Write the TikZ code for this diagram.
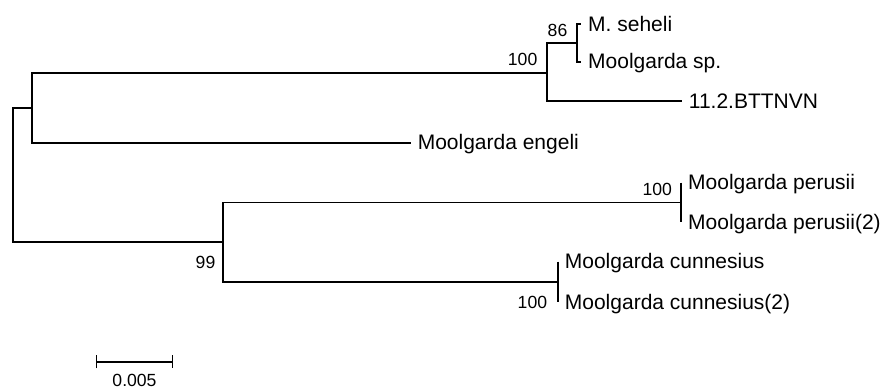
\documentclass[tikz,border=0pt]{standalone}
\usepackage{fontspec}
\setmainfont{Liberation Sans}
\usetikzlibrary{arrows.meta, positioning}

\begin{document}
\begin{tikzpicture}[
    x=0.5pt, y=-0.5pt,
    branch/.style={draw=black, line width=0.85pt},
    taxon/.style={inner sep=0pt, text height=8pt, text depth=1pt,
                  font=\fontsize{10.5}{12}\selectfont},
    support/.style={inner sep=0pt, font=\fontsize{8.8}{10}\selectfont},
    scalebar/.style={line width=0.85pt, {Bar[width=6.6pt]}-{Bar[width=6.6pt]}}
  ]
  \useasboundingbox (0,0) rectangle (885,388);

  \coordinate (root) at (12.7,175);
  \coordinate (nA) at (31.7,107.7);
  \coordinate (n100) at (546.7,72.7);
  \coordinate (n86) at (577.3,42.8);
  \coordinate (seheli) at (581,24);
  \coordinate (sp) at (581,61.7);
  \coordinate (bttnvn) at (681.7,101);
  \coordinate (engeli) at (411,142.7);
  \coordinate (nB) at (223.3,242.3);
  \coordinate (nPer) at (681,202.5);
  \coordinate (per1) at (681,182.7);
  \coordinate (per2) at (681,222.3);
  \coordinate (nCun) at (557.7,282.3);
  \coordinate (cun1) at (557.7,261.7);
  \coordinate (cun2) at (557.7,302.3);

  \draw[branch] (root) |- (nA);
  \draw[branch] (root) |- (nB);
  \draw[branch] (nA) |- (n100);
  \draw[branch] (nA) |- (engeli);
  \draw[branch] (n100) |- (n86);
  \draw[branch] (n100) |- (bttnvn);
  \draw[branch] (n86) |- (seheli);
  \draw[branch] (n86) |- (sp);
  \draw[branch] (nB) |- (nPer);
  \draw[branch] (nB) |- (nCun);
  \draw[branch] (per1) -- (per2);
  \draw[branch] (cun1) -- (cun2);

  \node[taxon, right=3.4pt of seheli] (l-seheli) {M. seheli};
  \node[taxon, right=3.4pt of sp] (l-sp) {Moolgarda sp.};
  \node[taxon, right=3.4pt of bttnvn] (l-bttnvn) {11.2.BTTNVN};
  \node[taxon, right=3.2pt of engeli] (l-engeli) {Moolgarda engeli};
  \node[taxon, right=3.4pt of per1] (l-per1) {Moolgarda perusii};
  \node[taxon, right=3.4pt of per2] (l-per2) {Moolgarda perusii(2)};
  \node[taxon, right=3.4pt of cun1] (l-cun1) {Moolgarda cunnesius};
  \node[taxon, right=3.4pt of cun2] (l-cun2) {Moolgarda cunnesius(2)};

  \node[support, above left=3.3pt and 4.5pt of n100] (b-n100) {100};
  \node[support, above left=2.8pt and 4.8pt of n86] (b-n86) {86};
  \node[support, above left=3pt and 4.3pt of nPer] (b-nPer) {100};
  \node[support, left=3.8pt of nB, yshift=-10.2pt] (b-nB) {99};
  \node[support, left=5.1pt of cun2] (b-cun2) {100};

  \coordinate (bar-l) at (95.7,361.7);
  \coordinate (bar-r) at (173.3,361.7);
  \coordinate (bar-m) at (134.5,361.7);
  \draw[scalebar] (bar-l) -- (bar-r);
  \node[support, below=6pt of bar-m] (l-bar) {0.005};
\end{tikzpicture}
\end{document}
